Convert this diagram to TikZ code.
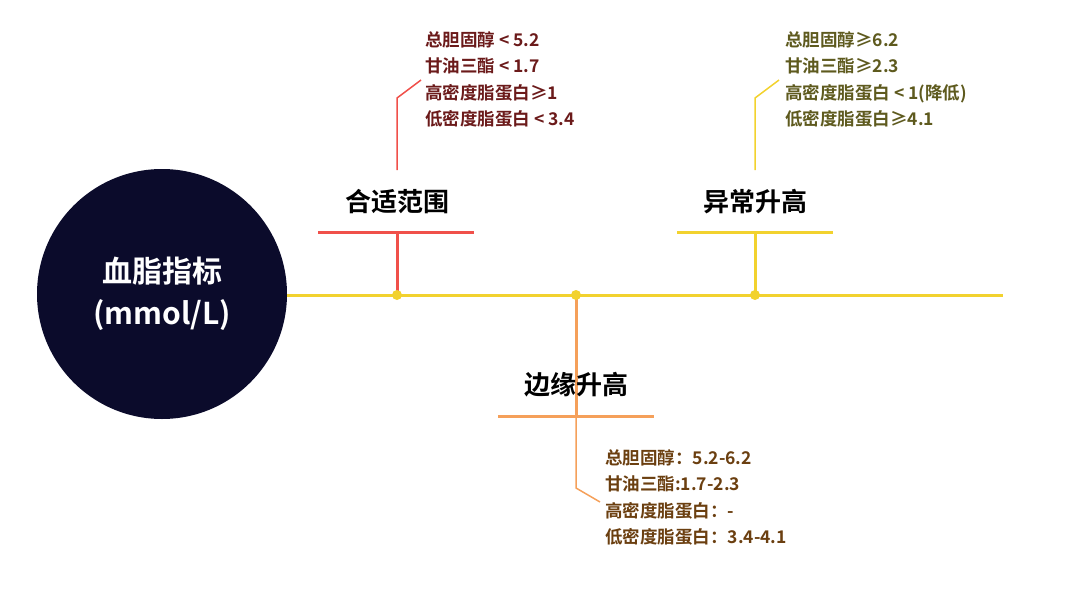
\documentclass[tikz,border=0pt]{standalone}
\usepackage{fontspec}
\setmainfont{Noto Sans CJK SC}[BoldFont={Noto Sans CJK SC Bold}]
\begin{document}
\begin{tikzpicture}[x=1pt,y=-1pt,
  ln/.style={line width=3pt},
  ttl/.style={font=\fontsize{26}{28}\selectfont\bfseries,anchor=center},
  itm/.style={font=\fontsize{17.5}{26.5}\selectfont\bfseries,anchor=north west,align=left,inner sep=0pt},
  dot/.style={circle,fill=ylw,inner sep=0pt,minimum size=10pt}]
\definecolor{ylw}{HTML}{F2D22E}
\definecolor{rd}{HTML}{F0504A}
\definecolor{org}{HTML}{F5A05A}
\definecolor{rdt}{HTML}{6B1A1A}
\definecolor{ylt}{HTML}{5E5A1E}
\definecolor{ort}{HTML}{6B3F10}
\definecolor{navy}{HTML}{0B0B2B}
\useasboundingbox (0,0) rectangle (1080,589);
\node[circle,fill=navy,minimum size=250pt,inner sep=0pt] (c) at (162,294) {};
\node[text=white,font=\fontsize{30}{42}\selectfont\bfseries,align=center] (ct) at (162,294) {血脂指标\\(mmol/L)};
\coordinate (ls) at (287,295); \coordinate (le) at (1003,295);
\draw[ylw,ln] (ls) -- (le);
% red
\coordinate (d1) at (397,295); \coordinate (h1) at (397,232);
\coordinate (h1a) at (318,232); \coordinate (h1b) at (474,232);
\draw[rd,ln] (d1) -- (h1); \draw[rd,ln] (h1a) -- (h1b);
\coordinate (r1) at (397,170); \coordinate (r2) at (397,98); \coordinate (r3) at (421,80);
\draw[rd,line width=1.5pt] (r1) -- (r2) -- (r3);
\node[ttl] (t1) at (397,202) {合适范围};
\node[itm,text=rdt] (i1) at (425,31) {总胆固醇 < 5.2\\甘油三酯 < 1.7\\高密度脂蛋白≥1\\低密度脂蛋白 < 3.4};
% yellow
\coordinate (d3) at (755,295); \coordinate (h3) at (755,232);
\coordinate (h3a) at (677,232); \coordinate (h3b) at (833,232);
\draw[ylw,ln] (d3) -- (h3); \draw[ylw,ln] (h3a) -- (h3b);
\coordinate (y1) at (755,170); \coordinate (y2) at (755,98); \coordinate (y3) at (779,80);
\draw[ylw,line width=1.5pt] (y1) -- (y2) -- (y3);
\node[ttl] (t3) at (755,202) {异常升高};
\node[itm,text=ylt] (i3) at (785,31) {总胆固醇≥6.2\\甘油三酯≥2.3\\高密度脂蛋白 < 1(降低)\\低密度脂蛋白≥4.1};
% orange
\coordinate (d2) at (576,295); \coordinate (h2) at (576,416);
\coordinate (h2a) at (498,416); \coordinate (h2b) at (654,416);
\draw[org,ln] (d2) -- (h2); \draw[org,ln] (h2a) -- (h2b);
\coordinate (o2) at (576,488); \coordinate (o3) at (600,502);
\draw[org,line width=1.5pt] (h2) -- (o2) -- (o3);
\node[ttl] (t2) at (576,385) {边缘升高};
\node[itm,text=ort] (i2) at (605,449) {总胆固醇：5.2-6.2\\甘油三酯:1.7-2.3\\高密度脂蛋白：-\\低密度脂蛋白：3.4-4.1};
\node[dot] (p1) at (d1) {}; \node[dot] (p2) at (d2) {}; \node[dot] (p3) at (d3) {};
\end{tikzpicture}
\end{document}
